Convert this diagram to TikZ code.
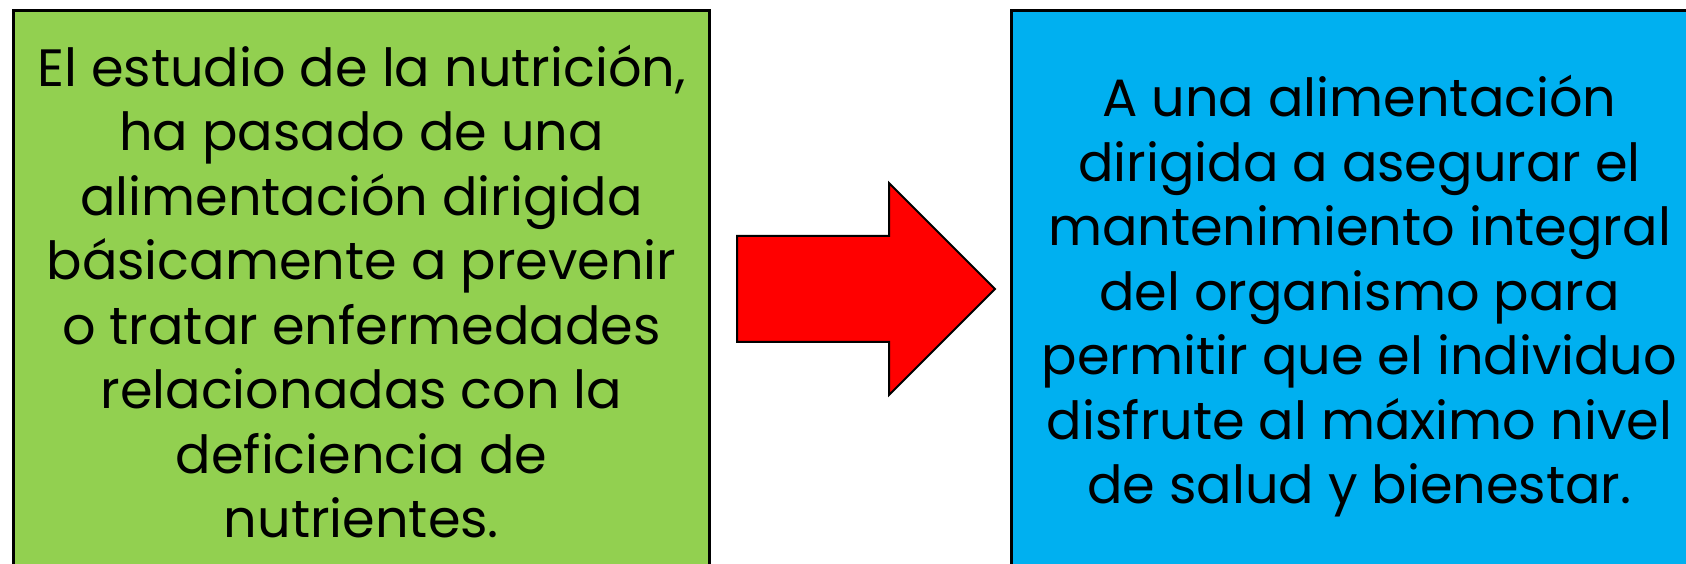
\documentclass[tikz,border=0pt]{standalone}
\usepackage{fontspec}
\setmainfont{Poppins}
\definecolor{boxgreen}{HTML}{92D050}
\definecolor{boxblue}{HTML}{00B0F0}
\tikzset{
  mybox/.style={draw=black,line width=3pt,rectangle,anchor=north west,align=center,minimum width=696pt,minimum height=572pt,inner sep=0pt,font=\fontsize{52.5}{64.5}\selectfont}
}
\begin{document}
\begin{tikzpicture}[x=1pt,y=1pt]
    \clip (0,0) rectangle (1686,564);
    \fill[white] (0,0) rectangle (1686,564);
    \node[mybox,fill=boxgreen,minimum height=562pt] (left) at (12,555) {El estudio de la nutrición,\\ha pasado de una\\alimentación dirigida\\básicamente a prevenir\\o tratar enfermedades\\relacionadas con la\\deficiencia de\\nutrientes.};
    \node[mybox,fill=boxblue] (right) at (1010,555) {A una alimentación\\dirigida a asegurar el\\mantenimiento integral\\del organismo para\\permitir que el individuo\\disfrute al máximo nivel\\de salud y bienestar.};
    \draw[black,line width=2pt,fill=red,line join=miter]
      (737,328) -- (889,328) -- (889,381) -- (995,275) -- (889,169) -- (889,222) -- (737,222) -- cycle;
  \end{tikzpicture}
\end{document}
